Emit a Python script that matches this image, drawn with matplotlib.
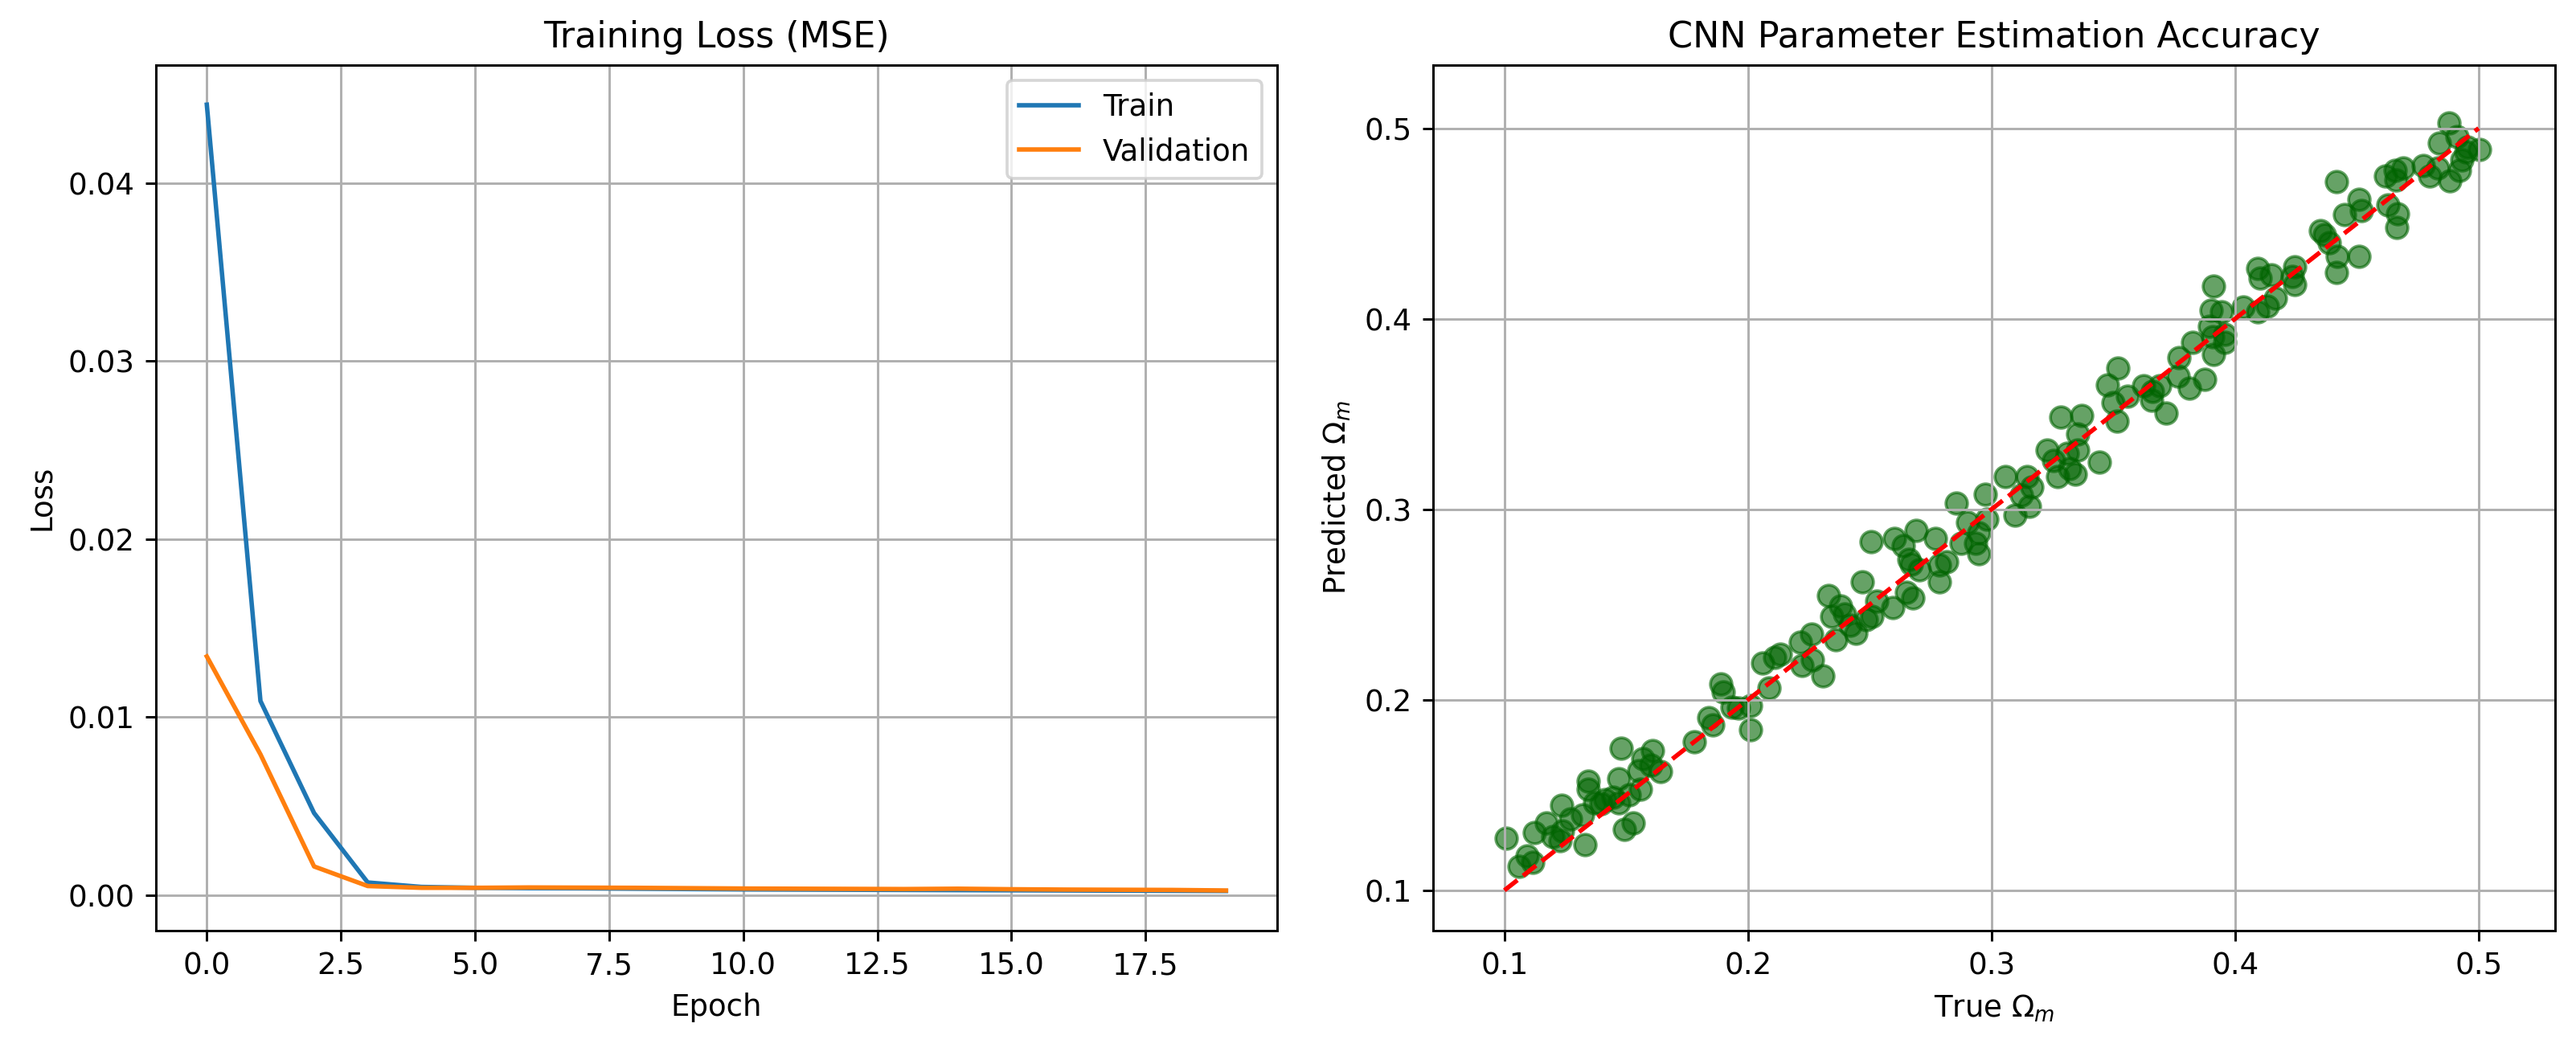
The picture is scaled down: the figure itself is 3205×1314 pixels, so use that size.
import matplotlib
matplotlib.use("Agg")
import matplotlib.pyplot as plt

# loss history
epochs = list(range(20))
train_loss = [0.0444, 0.0109, 0.0046, 0.0007, 0.00045, 0.0004, 0.00038, 0.00037,
              0.00035, 0.00033, 0.00031, 0.0003, 0.00029, 0.00028, 0.00027,
              0.00026, 0.00025, 0.00024, 0.00023, 0.00022]
val_loss = [0.0134, 0.0079, 0.0016, 0.0005, 0.0004, 0.0004, 0.00042, 0.00041,
            0.0004, 0.00038, 0.00036, 0.00035, 0.00034, 0.00033, 0.00035,
            0.00032, 0.0003, 0.00029, 0.00028, 0.00025]

# true vs predicted Omega_m
true_om = [
    0.1009, 0.1061, 0.1092, 0.1116, 0.1122, 0.1171, 0.1199, 0.1238, 0.1227, 0.1235,
    0.1271, 0.1331, 0.1320, 0.1343, 0.1343, 0.1370, 0.1414, 0.1448, 0.1470, 0.1481,
    0.1492, 0.1530, 0.1514, 0.1558, 0.1570, 0.1608, 0.1602, 0.1640, 0.1553, 0.1779,
    0.1840, 0.1854, 0.1890, 0.1900, 0.1934, 0.1961, 0.2011, 0.2011, 0.2061, 0.2088,
    0.2133, 0.2110, 0.2215, 0.2260, 0.2221, 0.2265, 0.2309, 0.2331, 0.2343, 0.2359,
    0.2398, 0.2442, 0.2470, 0.2486, 0.2420, 0.2530, 0.1398, 0.1470, 0.2381, 0.2508,
    0.2507, 0.2595, 0.2650, 0.2677, 0.2600, 0.2639, 0.2692, 0.2661, 0.2705, 0.2771,
    0.2787, 0.2815, 0.2787, 0.2672, 0.2854, 0.2903, 0.2936, 0.2947, 0.2876, 0.2975,
    0.2980, 0.2947, 0.3057, 0.3096, 0.3145, 0.3156, 0.3167, 0.3123, 0.3228, 0.3256,
    0.3283, 0.3272, 0.3310, 0.3322, 0.3355, 0.3371, 0.3344, 0.3443, 0.3476, 0.3498,
    0.3520, 0.3514, 0.3355,
    0.3557, 0.3623, 0.3661, 0.3689, 0.3656, 0.3716, 0.3765, 0.3770, 0.3814, 0.3874,
    0.3825, 0.3913, 0.3907, 0.3956, 0.3956, 0.3896, 0.3902, 0.3913, 0.3945, 0.4033,
    0.4093, 0.4131, 0.4164, 0.4093, 0.4104, 0.4148, 0.4246, 0.4246, 0.4235, 0.4350,
    0.4366, 0.4415, 0.4421, 0.4415, 0.4448, 0.4508, 0.4508, 0.4388,
    0.4518, 0.4617, 0.4656, 0.4689, 0.4662, 0.4628, 0.4667, 0.4665, 0.4772, 0.4799,
    0.4832, 0.4882, 0.4921, 0.4838, 0.4877, 0.4910, 0.4948, 0.4954, 0.5003, 0.4932,
]
pred_om = [
    0.1273, 0.1127, 0.1180, 0.1149, 0.1304, 0.1354, 0.1283, 0.1311, 0.1262, 0.1448,
    0.1375, 0.1240, 0.1396, 0.1573, 0.1530, 0.1460, 0.1474, 0.1488, 0.1587, 0.1745,
    0.1318, 0.1354, 0.1502, 0.1530, 0.1693, 0.1735, 0.1658, 0.1622, 0.1629, 0.1778,
    0.1905, 0.1870, 0.2082, 0.2040, 0.1962, 0.1955, 0.1842, 0.1969, 0.2195, 0.2061,
    0.2238, 0.2223, 0.2301, 0.2344, 0.2181, 0.2209, 0.2124, 0.2549, 0.2436, 0.2315,
    0.2450, 0.2351, 0.2620, 0.2421, 0.2393, 0.2520, 0.1453, 0.1460, 0.2492, 0.2436,
    0.2828, 0.2486, 0.2563, 0.2535, 0.2849, 0.2807, 0.2891, 0.2737, 0.2682, 0.2849,
    0.2709, 0.2723, 0.2619, 0.2710, 0.3031, 0.2933, 0.2821, 0.2765, 0.2821, 0.3080,
    0.2947, 0.2877, 0.3170, 0.2968, 0.3170, 0.3017, 0.3115, 0.3073, 0.3310, 0.3254,
    0.3485, 0.3170, 0.3296, 0.3212, 0.3394, 0.3492, 0.3184, 0.3247, 0.3652, 0.3561,
    0.3743, 0.3464, 0.3310,
    0.3592, 0.3649, 0.3620, 0.3649, 0.3571, 0.3507, 0.3698, 0.3797, 0.3635, 0.3684,
    0.3875, 0.3812, 0.3904, 0.3875, 0.3918, 0.3960, 0.4045, 0.4173, 0.4038, 0.4060,
    0.4038, 0.4067, 0.4109, 0.4265, 0.4215, 0.4229, 0.4272, 0.4180, 0.4222, 0.4463,
    0.4442, 0.4718, 0.4329, 0.4244, 0.4548, 0.4329, 0.4626, 0.4400,
    0.4569, 0.4750, 0.4778, 0.4792, 0.4729, 0.4597, 0.4549, 0.4479, 0.4806, 0.4750,
    0.4792, 0.4722, 0.4778, 0.4924, 0.5028, 0.4958, 0.4875, 0.4903, 0.4889, 0.4833,
]
ideal_range = [0.1, 0.5]

DPI = 267
fig = plt.figure(figsize=(3205 / DPI, 1314 / DPI), dpi=DPI)
ax1 = fig.add_axes([0.0605, 0.119, 0.4352, 0.8191])
ax2 = fig.add_axes([0.5562, 0.119, 0.4358, 0.8191])

ax1.plot(epochs, train_loss, label="Train")
ax1.plot(epochs, val_loss, label="Validation")
ax1.set_title("Training Loss (MSE)", fontsize=12)
ax1.set_xlabel("Epoch")
ax1.set_ylabel("Loss")
ax1.legend(loc="upper right")
ax1.grid(True)

ax2.scatter(true_om, pred_om, s=52, color="darkgreen", alpha=0.6)
ax2.plot(ideal_range, ideal_range, "r--")
ax2.set_xlim(0.0706, 0.5315)
ax2.set_ylim(0.079, 0.533)
ax2.set_xticks([0.1, 0.2, 0.3, 0.4, 0.5])
ax2.set_yticks([0.1, 0.2, 0.3, 0.4, 0.5])
ax2.set_title("CNN Parameter Estimation Accuracy", fontsize=12)
ax2.set_xlabel(r"True $\Omega_m$")
ax2.set_ylabel(r"Predicted $\Omega_m$")
ax2.grid(True)

fig.savefig("out.png", dpi=DPI)
plt.close(fig)
